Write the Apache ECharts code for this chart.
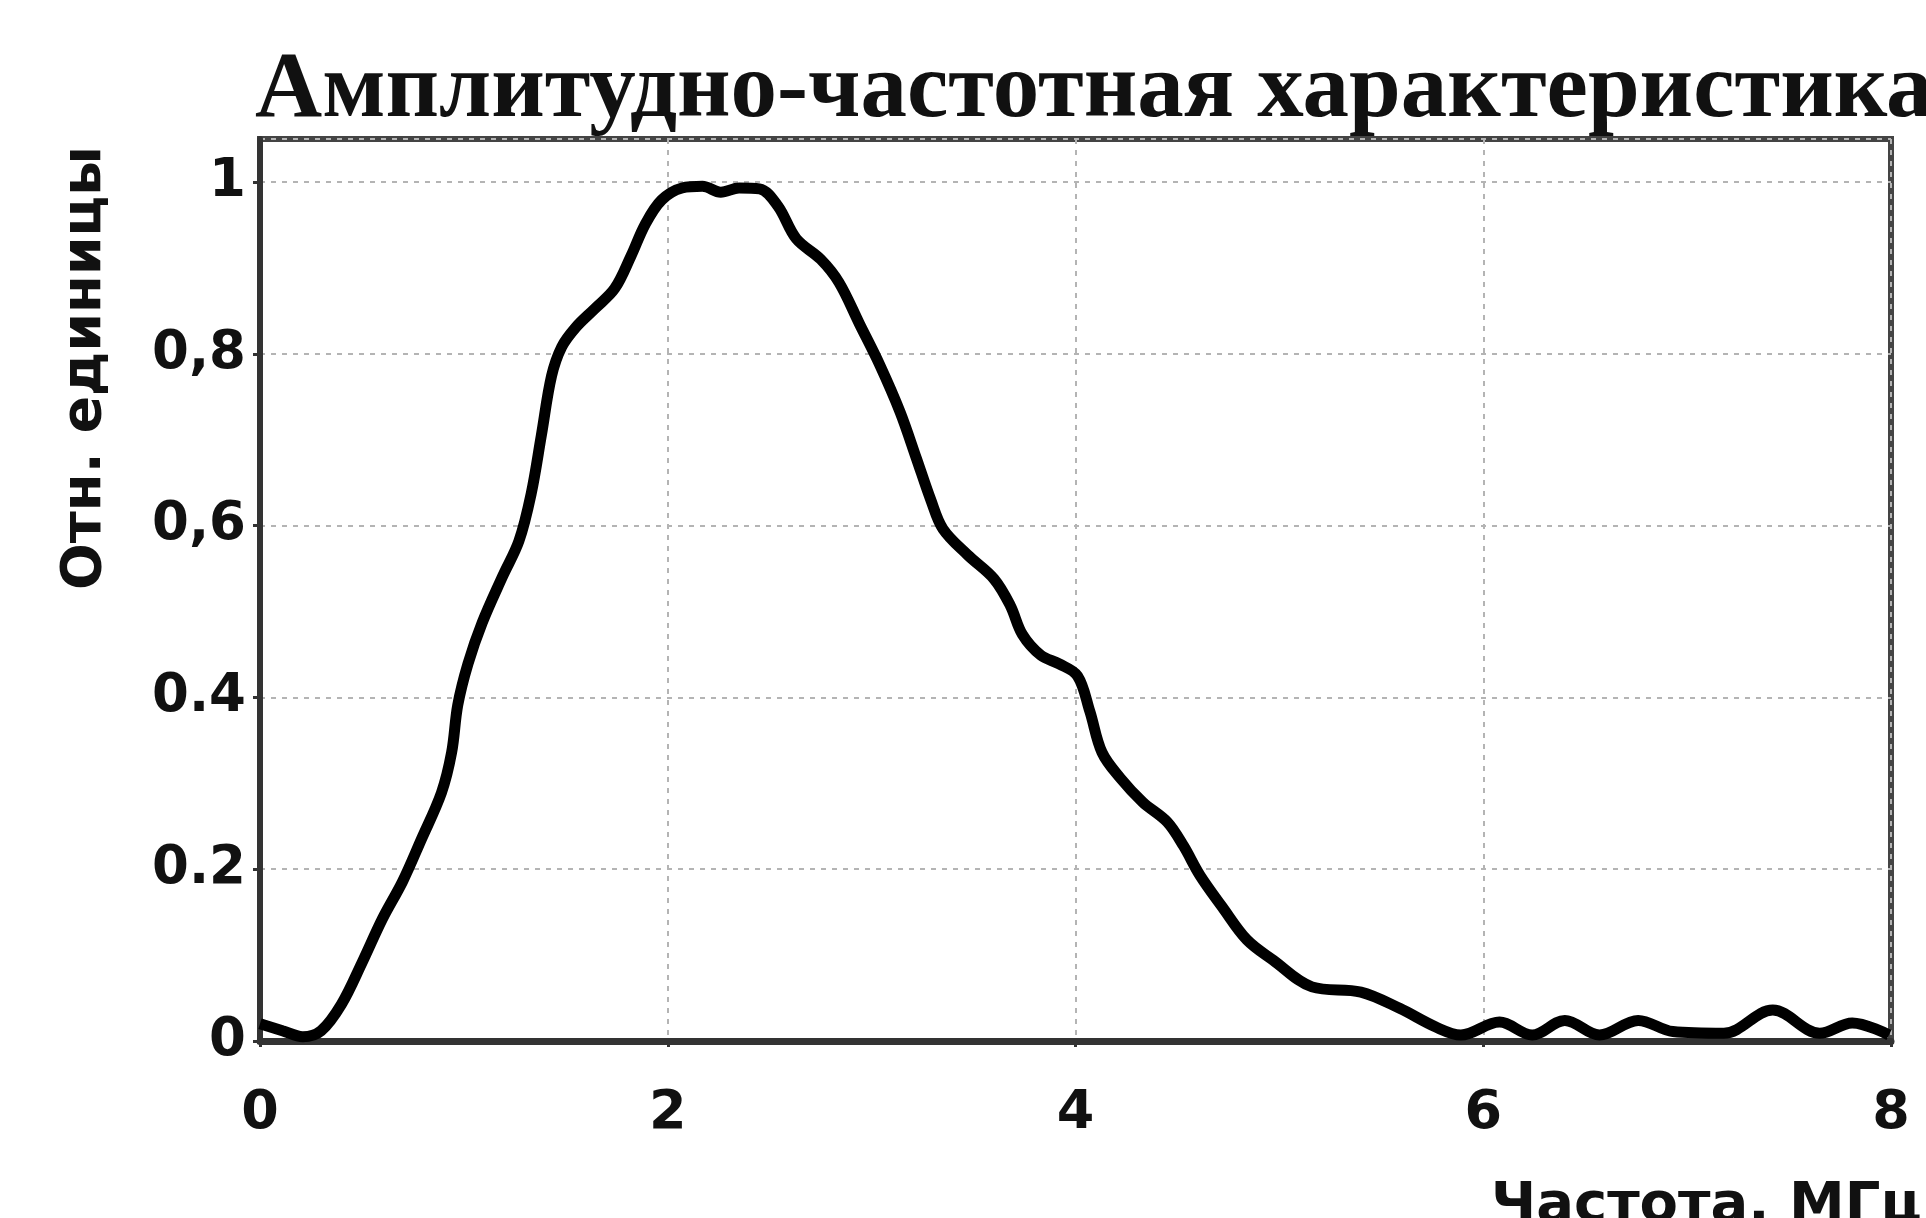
<!DOCTYPE html>
<html>
<head>
<meta charset="utf-8">
<script src="https://cdn.jsdelivr.net/npm/echarts@6/dist/echarts.min.js"></script>
<style>
html,body{margin:0;padding:0;background:#fff;}
#chart{width:1926px;height:1218px;}
</style>
</head>
<body>
<div id="chart"></div>
<script>
const chartTitle = 'Амплитудно-частотная характеристика';
const xAxisName = 'Частота, МГц';
const yAxisName = 'Отн. единицы';

const freqs = [0.00,0.11,0.21,0.30,0.40,0.50,0.60,0.70,0.79,0.89,0.94,0.97,1.02,1.09,1.19,1.27,1.33,1.38,1.43,1.48,1.55,1.64,1.74,1.82,1.89,1.97,2.07,2.17,2.26,2.35,2.45,2.54,2.63,2.75,2.84,2.94,3.04,3.14,3.22,3.29,3.35,3.47,3.60,3.68,3.74,3.83,3.92,4.01,4.07,4.13,4.22,4.33,4.45,4.53,4.61,4.72,4.84,4.97,5.16,5.40,5.59,5.77,5.89,6.08,6.24,6.40,6.57,6.76,6.93,7.18,7.42,7.65,7.81,7.99];
const amps  = [0.020,0.012,0.005,0.012,0.043,0.091,0.142,0.186,0.234,0.289,0.336,0.391,0.439,0.487,0.541,0.582,0.637,0.705,0.774,0.808,0.831,0.852,0.876,0.914,0.951,0.979,0.993,0.995,0.988,0.993,0.992,0.972,0.934,0.910,0.883,0.835,0.787,0.732,0.678,0.630,0.596,0.566,0.538,0.507,0.473,0.449,0.439,0.425,0.384,0.336,0.306,0.278,0.255,0.227,0.193,0.156,0.118,0.094,0.063,0.057,0.038,0.016,0.007,0.022,0.007,0.024,0.007,0.024,0.011,0.009,0.036,0.009,0.021,0.007];

const xTickValues = [0,2,4,6,8];
const xTickLabels = ['0','2','4','6','8'];
const yTickValues = [0,0.2,0.4,0.6,0.8,1];
const yTickLabels = ['0','0.2','0.4','0,6','0,8','1'];

function lookup(vals, labels, v){
  for (let i=0;i<vals.length;i++){ if (Math.abs(vals[i]-v)<1e-6) return labels[i]; }
  return '';
}

const chart = echarts.init(document.getElementById('chart'), null, {renderer:'canvas'});
const sansBold = {fontFamily:'DejaVu Sans', fontWeight:'bold', color:'#111'};

chart.setOption({
  backgroundColor:'#fff',
  animation:false,
  title:{
    text: chartTitle,
    left: 250,
    top: 40,
    textStyle:{fontFamily:'Liberation Serif', fontWeight:'bold', fontSize:93, color:'#111'}
  },
  grid:{left:260, right:35, top:139, bottom:177, containLabel:false, outerBoundsMode:'none', show:true, borderColor:'#444', borderWidth:6, backgroundColor:'#fff'},
  xAxis:{
    type:'value', min:0, max:8, interval:2,
    name: xAxisName,
    nameLocation:'end',
    nameGap:31,
    nameTextStyle:Object.assign({fontSize:56, align:'right', verticalAlign:'top', padding:[137,0,0,0]}, sansBold),
    axisLine:{show:true, lineStyle:{color:'#333', width:7}},
    axisTick:{show:true, length:6, lineStyle:{color:'#333', width:3}},
    axisLabel:Object.assign({fontSize:54, margin:46, formatter:v=>lookup(xTickValues,xTickLabels,v)}, sansBold),
    splitLine:{show:true, lineStyle:{color:'#b4b4b4', width:2, type:[5,6]}}
  },
  yAxis:{
    type:'value', min:0, max:1.05, interval:0.2,
    axisLine:{show:true, lineStyle:{color:'#333', width:6}},
    axisTick:{show:true, length:7, lineStyle:{color:'#333', width:3}},
    axisLabel:Object.assign({fontSize:53, margin:14, showMaxLabel:false, formatter:v=>lookup(yTickValues,yTickLabels,v)}, sansBold),
    splitLine:{show:true, lineStyle:{color:'#b4b4b4', width:2, type:[5,6]}}
  },
  graphic:[{
    type:'text',
    x:86, y:368,
    rotation:Math.PI/2,
    style:{text:yAxisName, fontFamily:'DejaVu Sans', fontWeight:'bold', fontSize:55, textAlign:'center', textVerticalAlign:'middle', fill:'#111'}
  }],
  series:[{
    type:'line',
    data: freqs.map((f,i)=>[f, amps[i]]),
    smooth:0.35,
    showSymbol:false,
    symbol:'none',
    lineStyle:{color:'#000', width:11},
    z:5
  }]
});
</script>
</body>
</html>
